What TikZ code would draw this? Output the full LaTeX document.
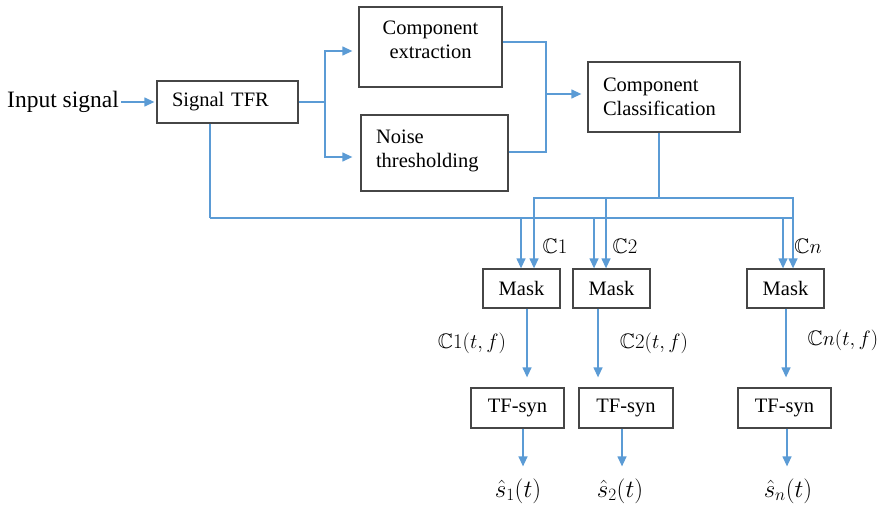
\documentclass[tikz,border=0pt]{standalone}
\usepackage{fontspec}
\usepackage{amsmath, amssymb}
\setmainfont{Liberation Serif}
\usetikzlibrary{arrows.meta}
\definecolor{lineblue}{RGB}{91,155,213}
\definecolor{boxgray}{RGB}{70,70,70}

\begin{document}
\begin{tikzpicture}[x=1pt, y=-1pt,
  box/.style={draw=boxgray, line width=1.3pt, rectangle, inner sep=0pt, font=\rmfamily\fontsize{20.5}{24}\selectfont},
  wire/.style={draw=lineblue, line width=1.3pt},
  arr/.style={wire, -{Triangle[length=10pt,width=9pt]}},
  lbl/.style={inner sep=0pt, font=\rmfamily\fontsize{21}{24}\selectfont},
  outlbl/.style={lbl, font=\rmfamily\fontsize{24}{28}\selectfont}]
  \useasboundingbox (0,0) rectangle (880,505);

  % Front end
  \node[lbl, font=\rmfamily\fontsize{23.5}{28}\selectfont, anchor=west] (in) at (7,102) {Input signal};
  \node[box, minimum width=141pt, minimum height=42pt, text width=111pt, align=left] (tfr) at (227.5,102) {Signal TFR};
  \node[box, minimum width=143pt, minimum height=80pt, align=center] (ce) at (430.5,47) {Component\\extraction\\[-10pt]\mbox{}};
  \node[box, minimum width=147pt, minimum height=76pt, text width=117pt, align=left] (nt) at (434.5,153) {Noise\\thresholding\\[-16pt]\mbox{}};
  \node[box, minimum width=152pt, minimum height=70pt, text width=122pt, align=left] (cc) at (664,97) {Component\\Classification};
  \draw[arr, shorten <=2pt, shorten >=2pt] (in.east) -- (tfr.west);

  \coordinate (split) at (325,102);
  \draw[wire] (tfr.east) -- (split);
  \draw[arr, shorten >=6pt] (split) |- ([yshift=-4pt]ce.west);
  \draw[arr, shorten >=8pt] (split) |- ([yshift=-4pt]nt.west);

  \coordinate (join) at (546,94);
  \draw[wire] ([yshift=5pt]ce.east) -| (join);
  \draw[wire] ([yshift=1pt]nt.east) -| (join);
  \draw[arr, shorten >=6pt] (join) -- (join -| cc.west);

  % Masks
  \node[box, minimum width=77pt, minimum height=39pt] (m1) at (521.5,288.5) {Mask};
  \node[box, minimum width=77pt, minimum height=39pt] (m2) at (611.5,288.5) {Mask};
  \node[box, minimum width=77pt, minimum height=39pt] (mn) at (785.5,288.5) {Mask};

  \coordinate (cbus) at (659,198);
  \draw[wire] (cc.south -| cbus) -- (cbus);
  \draw[arr] (cbus) -| ([xshift=12.5pt]m1.north);
  \draw[arr] (cbus) -| ([xshift=-5.5pt]m2.north);
  \draw[arr] (cbus) -| ([xshift=7.5pt]mn.north);

  \coordinate (fb) at (210,218);
  \draw[wire] ([xshift=-17.5pt]tfr.south) -- (fb);
  \draw[wire] (fb) -- (fb -| cbus) -- ++(134,0);
  \draw[arr] (fb) -| ([xshift=-0.5pt]m1.north);
  \draw[arr] (fb) -| ([xshift=-17.5pt]m2.north);
  \draw[arr] (fb) -| ([xshift=-2.5pt]mn.north);

  \node[lbl] (c1) at (555,246) {$\mathbb{C}1$};
  \node[lbl] (c2) at (625,246) {$\mathbb{C}2$};
  \node[lbl] (cn) at (808,246) {$\mathbb{C}n$};

  % Synthesis
  \node[box, minimum width=93pt, minimum height=40pt] (t1) at (517.5,408) {TF-syn};
  \node[box, minimum width=94pt, minimum height=40pt] (t2) at (626,408) {TF-syn};
  \node[box, minimum width=93pt, minimum height=40pt] (tn) at (784.5,408) {TF-syn};

  \draw[arr, shorten >=10pt] ([xshift=5.5pt]m1.south) -- ([xshift=5.5pt]m1.south |- t1.north);
  \draw[arr, shorten >=10pt] ([xshift=-13.5pt]m2.south) -- ([xshift=-13.5pt]m2.south |- t2.north);
  \draw[arr, shorten >=10pt] ([xshift=0.5pt]mn.south) -- ([xshift=0.5pt]mn.south |- tn.north);

  \node[lbl] (c1tf) at (472,343) {$\mathbb{C}1(t,f)$};
  \node[lbl] (c2tf) at (654,343) {$\mathbb{C}2(t,f)$};
  \node[lbl] (cntf) at (843,340) {$\mathbb{C}n(t,f)$};

  \node[outlbl] (s1) at (518,491) {$\hat{s}_1(t)$};
  \node[outlbl] (s2) at (620,491) {$\hat{s}_2(t)$};
  \node[outlbl] (sn) at (788,491) {$\hat{s}_n(t)$};

  \draw[arr, shorten >=12pt] ([xshift=5.5pt]t1.south) -- ([xshift=5.5pt]t1.south |- s1.north);
  \draw[arr, shorten >=12pt] ([xshift=-4pt]t2.south) -- ([xshift=-4pt]t2.south |- s2.north);
  \draw[arr, shorten >=12pt] ([xshift=2.5pt]tn.south) -- ([xshift=2.5pt]tn.south |- sn.north);
\end{tikzpicture}
\end{document}
